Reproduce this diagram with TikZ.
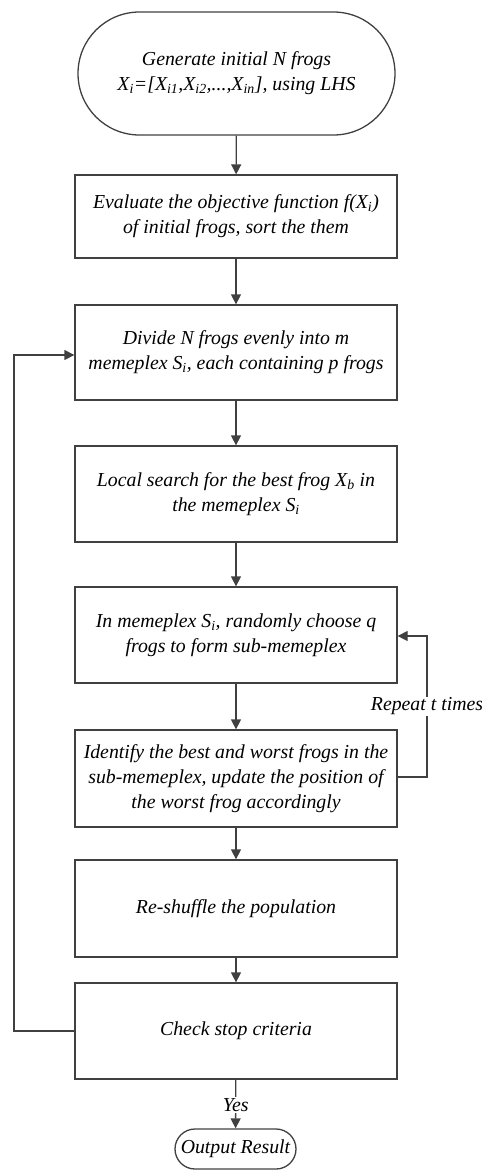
\documentclass[tikz,border=0pt]{standalone}
\usepackage{fontspec}
\setmainfont{Liberation Serif}
\usetikzlibrary{arrows.meta,shapes.misc}
\definecolor{ln}{HTML}{404040}
\tikzset{
  stepbox/.style={draw=ln, line width=1.3pt, rectangle, minimum width=322pt, align=center, inner sep=2pt,
    font=\fontsize{19.8}{25}\selectfont\itshape},
  term/.style={draw=ln, line width=1.3pt, rounded rectangle, align=center, inner sep=2pt,
    font=\fontsize{19.8}{25}\selectfont\itshape},
  arr/.style={draw=ln, line width=1.3pt, -{Triangle[width=10pt,length=10pt]}},
  lbl/.style={fill=white, inner sep=1pt, font=\fontsize{19.8}{25}\selectfont\itshape}
}
\begin{document}
\begin{tikzpicture}[x=1pt,y=-1pt]
\useasboundingbox (0,0) rectangle (482,1171);
\node[term, minimum width=321pt, minimum height=123pt] (n1) at (236.5,73.5)
  {Generate initial N frogs\\X\textsubscript{i}=[X\textsubscript{i1},X\textsubscript{i2},...,X\textsubscript{in}], using LHS};
\node[stepbox, minimum height=83pt] (n2) at (236,216.5)
  {Evaluate the objective function f(X\textsubscript{i})\\of initial frogs, sort the them};
\node[stepbox, minimum height=95pt] (n3) at (236,352.5)
  {Divide N frogs evenly into m\\memeplex S\textsubscript{i}, each containing p frogs};
\node[stepbox, minimum height=96pt] (n4) at (236,494)
  {Local search for the best frog X\textsubscript{b} in\\the memeplex S\textsubscript{i}};
\node[stepbox, minimum height=96pt] (n5) at (236,635)
  {In memeplex S\textsubscript{i}, randomly choose q\\frogs to form sub-memeplex};
\node[stepbox, minimum height=97pt] (n6) at (236,778.5)
  {Identify the best and worst frogs in the\\sub-memeplex, update the position of\\the worst frog accordingly};
\node[stepbox, minimum height=97pt] (n7) at (236,908.5)
  {Re-shuffle the population};
\node[stepbox, minimum height=96pt] (n8) at (236,1031)
  {Check stop criteria};
\node[term, minimum width=123pt, minimum height=40pt, inner sep=1pt] (n9) at (235.5,1149)
  {Output Result};
\draw[arr] (n1) -- (n2);
\draw[arr] (n2) -- (n3);
\draw[arr] (n3) -- (n4);
\draw[arr] (n4) -- (n5);
\draw[arr] (n5) -- (n6);
\draw[arr] (n6) -- (n7);
\draw[arr] (n7) -- (n8);
\draw[arr] (n8) -- node[lbl, pos=0.52] (yes) {Yes} (n9);
\coordinate (lb) at (14,1031);
\coordinate (lt) at (14,355);
\draw[arr] (n8.west) -- (lb) -- (lt) -- (n3.west |- lt);
\coordinate (rb) at (427,777);
\coordinate (rt) at (427,636);
\draw[arr] (n6.east |- rb) -- (rb) -- node[lbl, pos=0.5] (rep) {Repeat t times} (rt) -- (n5.east |- rt);
\end{tikzpicture}
\end{document}
